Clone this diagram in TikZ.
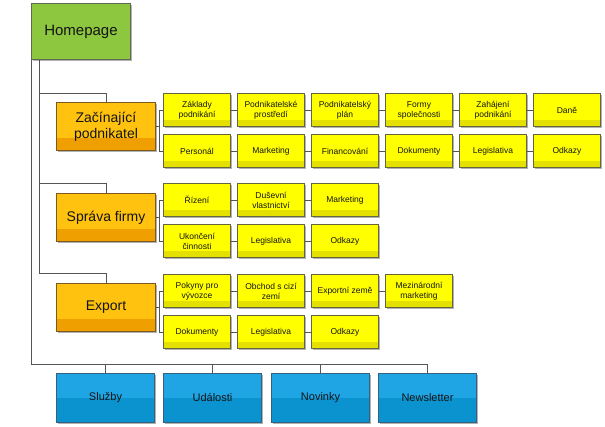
\documentclass[tikz,border=0pt]{standalone}
\usepackage{fontspec}
\setmainfont{Liberation Sans}
\usetikzlibrary{calc,shadows}
\definecolor{hgreen}{HTML}{8DC63F}
\definecolor{hgreenB}{HTML}{5E6B50}
\definecolor{sorange}{HTML}{FFC20E}
\definecolor{sorangeD}{HTML}{EFA000}
\definecolor{sorangeB}{HTML}{7A5A20}
\definecolor{iyellow}{HTML}{FFFF00}
\definecolor{iyellowD}{HTML}{E4E000}
\definecolor{iyellowB}{HTML}{66663E}
\definecolor{bblue}{HTML}{1FA4E4}
\definecolor{bblueD}{HTML}{0B93D0}
\definecolor{bblueB}{HTML}{35607E}
\definecolor{conn}{HTML}{555555}
\definecolor{txt}{HTML}{141414}
\begin{document}
\begin{tikzpicture}[x=1pt,y=-1pt,
  box/.style={draw, line width=1pt, anchor=north west, inner sep=1pt, align=center, text=txt,
    drop shadow={shadow xshift=1.3pt, shadow yshift=-1.3pt, opacity=0.3, fill=black}},
  band/.style 2 args={path picture={\fill[#1] (path picture bounding box.south west) rectangle ($(path picture bounding box.south east)!#2!(path picture bounding box.north east)$);}},
  homebox/.style={box, fill=hgreen, draw=hgreenB, minimum width=99pt, minimum height=56pt, font=\fontsize{15}{17}\selectfont},
  secbox/.style={box, fill=sorange, draw=sorangeB, band={sorangeD}{0.27}, minimum width=99pt, minimum height=48pt, font=\fontsize{14}{16}\selectfont},
  itembox/.style={box, fill=iyellow, draw=iyellowB, band={iyellowD}{0.2}, minimum width=67pt, minimum height=33pt, font=\fontsize{8.5}{10}\selectfont},
  bluebox/.style={box, fill=bblue, draw=bblueB, band={bblueD}{0.5}, minimum width=98pt, minimum height=49pt, font=\fontsize{11}{13}\selectfont},
  link/.style={draw=conn, line width=0.9pt}
]
\useasboundingbox (0,0) rectangle (605,427);

% Homepage
\node[homebox] (home) at (31,3) {Homepage};

% Sections
\node[secbox] (s1) at (56,102) {Začínající\\podnikatel};
\node[secbox] (s2) at (56,193) {Správa firmy};
\node[secbox] (s3) at (56,283) {Export};

% Section 1 items
\node[itembox] (a1) at (163,93) {Základy\\podnikání};
\node[itembox] (a2) at (237,93) {Podnikatelské\\prostředí};
\node[itembox] (a3) at (311,93) {Podnikatelský\\plán};
\node[itembox] (a4) at (385,93) {Formy\\společnosti};
\node[itembox] (a5) at (459,93) {Zahájení\\podnikání};
\node[itembox] (a6) at (533,93) {Daně};
\node[itembox] (b1) at (163,134) {Personál};
\node[itembox] (b2) at (237,134) {Marketing};
\node[itembox] (b3) at (311,134) {Financování};
\node[itembox] (b4) at (385,134) {Dokumenty};
\node[itembox] (b5) at (459,134) {Legislativa};
\node[itembox] (b6) at (533,134) {Odkazy};

% Section 2 items
\node[itembox] (c1) at (163,183) {Řízení};
\node[itembox] (c2) at (237,183) {Duševní\\vlastnictví};
\node[itembox] (c3) at (311,183) {Marketing};
\node[itembox] (d1) at (163,224) {Ukončení\\činnosti};
\node[itembox] (d2) at (237,224) {Legislativa};
\node[itembox] (d3) at (311,224) {Odkazy};

% Section 3 items
\node[itembox] (e1) at (163,274) {Pokyny pro\\vývozce};
\node[itembox] (e2) at (237,274) {Obchod s cizí\\zemí};
\node[itembox] (e3) at (311,274) {Exportní země};
\node[itembox] (e4) at (385,274) {Mezinárodní\\marketing};
\node[itembox] (f1) at (163,315) {Dokumenty};
\node[itembox] (f2) at (237,315) {Legislativa};
\node[itembox] (f3) at (311,315) {Odkazy};

% Bottom boxes
\node[bluebox] (g1) at (56,373) {Služby};
\node[bluebox] (g2) at (163,373) {Události};
\node[bluebox] (g3) at (271,373) {Novinky};
\node[bluebox] (g4) at (378,373) {Newsletter};

% Connectors: homepage to sections
\coordinate (tr) at ($(home.south west)+(8,0)$);
\draw[link] (tr) |- ($(s1.north)+(0,-9)$) -- (s1.north);
\draw[link] (tr) |- ($(s2.north)+(0,-10)$) -- (s2.north);
\draw[link] (tr) |- ($(s3.north)+(0,-10)$) -- (s3.north);

% Connectors: homepage to bottom bus
\coordinate (tl) at ($(home.south west)+(0.5,0)$);
\coordinate (bus) at ($(tl|-g1.north)+(0,-9)$);
\draw[link] (tl) -- (bus) -| (g4.north);
\draw[link] (g1.north) -- (g1.north|-bus);
\draw[link] (g2.north) -- (g2.north|-bus);
\draw[link] (g3.north) -- (g3.north|-bus);

% Section to items brackets
\foreach \s/\p/\q in {s1/a1/b1, s2/c1/d1, s3/e1/f1}{
  \draw[link] (\s.east) -- ++(3.5,0) |- (\p.west);
  \draw[link] (\s.east) ++(3.5,0) |- (\q.west);
}

% Item chains
\foreach \u/\v in {a1/a2,a2/a3,a3/a4,a4/a5,a5/a6,b1/b2,b2/b3,b3/b4,b4/b5,b5/b6,
                   c1/c2,c2/c3,d1/d2,d2/d3,e1/e2,e2/e3,e3/e4,f1/f2,f2/f3}{
  \draw[link] (\u.east) -- (\v.west);
}
\end{tikzpicture}
\end{document}
